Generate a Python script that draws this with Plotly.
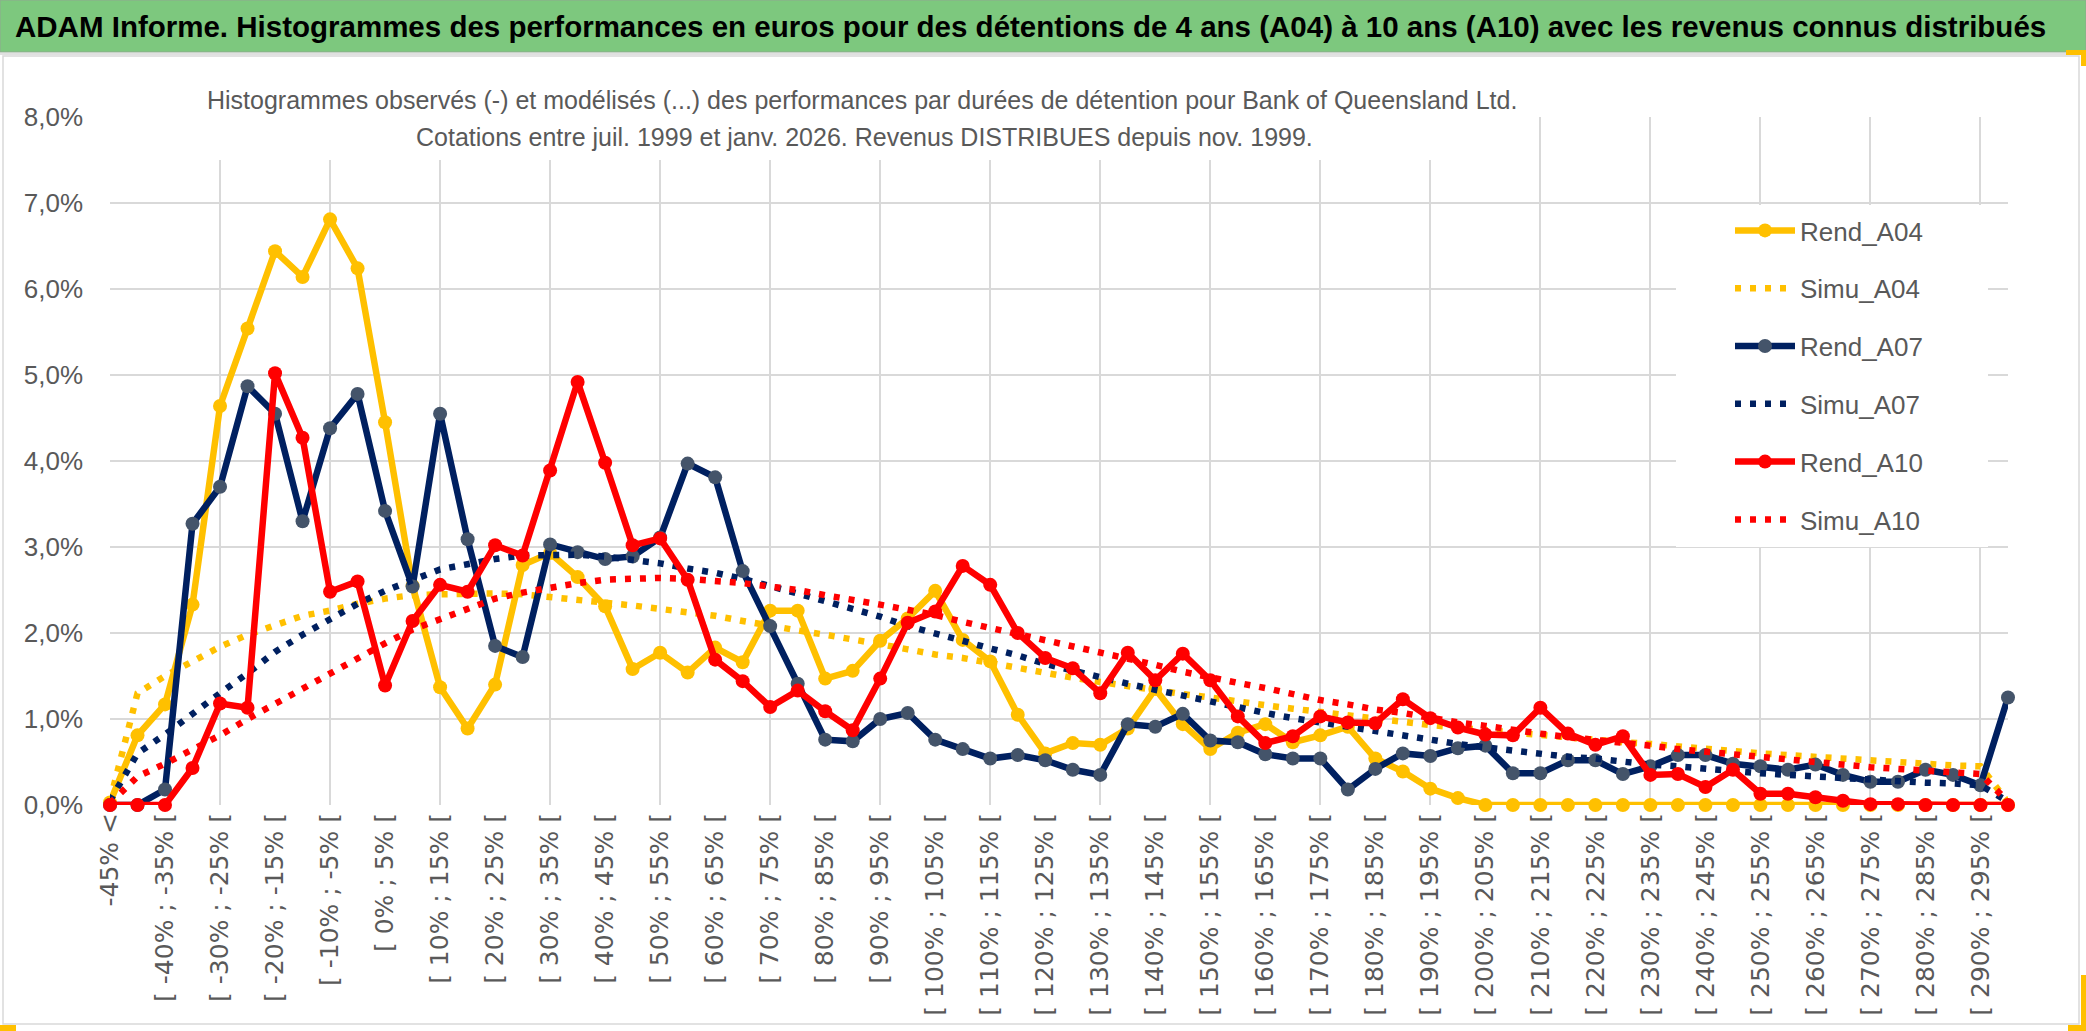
import plotly.graph_objects as go

# ---------------- data (percent) ----------------
LOWER_BOUNDS = list(range(-45, 300, 5))  # bucket lower bounds for buckets 1..69
CATEGORIES = ["-45% <"] + ["[ %d%% ; %d%% [" % (a, a + 5) for a in LOWER_BOUNDS[:68]] + ["> 295%"]

REND_A04 = [0.03, 0.81, 1.17, 2.33, 4.64, 5.54, 6.44, 6.14, 6.81, 6.24,
            4.45, 2.55, 1.37, 0.89, 1.40, 2.79, 2.93, 2.65, 2.31, 1.58,
            1.77, 1.54, 1.83, 1.66, 2.26, 2.26, 1.47, 1.56, 1.91, 2.17,
            2.49, 1.92, 1.67, 1.05, 0.60, 0.72, 0.70, 0.89, 1.35, 0.94,
            0.65, 0.84, 0.94, 0.73, 0.81, 0.91, 0.54, 0.39, 0.19, 0.08,
            0.00, 0.00, 0.00, 0.00, 0.00, 0.00, 0.00, 0.00, 0.00, 0.00,
            0.00, 0.00, 0.00, 0.00, 0.00, 0.00, 0.00, 0.00, 0.00, 0.00]

SIMU_A04 = [0.05, 1.30, 1.50, 1.67, 1.84, 1.98, 2.10, 2.20, 2.26, 2.34,
            2.40, 2.44, 2.45, 2.46, 2.46, 2.45, 2.42, 2.39, 2.36, 2.32,
            2.28, 2.24, 2.20, 2.14, 2.08, 2.03, 1.98, 1.93, 1.87, 1.81,
            1.75, 1.71, 1.65, 1.60, 1.54, 1.48, 1.43, 1.38, 1.33, 1.29,
            1.25, 1.20, 1.16, 1.12, 1.08, 1.04, 1.01, 0.97, 0.93, 0.90,
            0.87, 0.85, 0.81, 0.78, 0.75, 0.73, 0.71, 0.68, 0.66, 0.63,
            0.60, 0.58, 0.56, 0.54, 0.51, 0.49, 0.48, 0.46, 0.45, 0.03]

REND_A07 = [0.00, 0.00, 0.18, 3.27, 3.70, 4.87, 4.55, 3.30, 4.38, 4.78,
            3.42, 2.54, 4.55, 3.09, 1.85, 1.72, 3.03, 2.94, 2.86, 2.89,
            3.11, 3.97, 3.81, 2.72, 2.08, 1.41, 0.76, 0.74, 1.00, 1.07,
            0.76, 0.65, 0.54, 0.58, 0.52, 0.41, 0.35, 0.94, 0.91, 1.06,
            0.75, 0.73, 0.59, 0.54, 0.54, 0.18, 0.42, 0.60, 0.57, 0.66,
            0.69, 0.37, 0.37, 0.52, 0.52, 0.36, 0.45, 0.58, 0.58, 0.48,
            0.45, 0.41, 0.47, 0.35, 0.27, 0.27, 0.41, 0.35, 0.23, 1.25]

SIMU_A07 = [0.05, 0.60, 0.82, 1.07, 1.30, 1.53, 1.78, 1.98, 2.17, 2.34,
            2.49, 2.62, 2.74, 2.80, 2.86, 2.90, 2.91, 2.91, 2.89, 2.85,
            2.81, 2.75, 2.70, 2.63, 2.55, 2.46, 2.37, 2.28, 2.19, 2.08,
            2.00, 1.91, 1.82, 1.74, 1.64, 1.56, 1.49, 1.41, 1.34, 1.27,
            1.20, 1.13, 1.07, 1.01, 0.96, 0.91, 0.86, 0.80, 0.75, 0.71,
            0.67, 0.63, 0.59, 0.56, 0.54, 0.50, 0.47, 0.45, 0.42, 0.40,
            0.37, 0.35, 0.33, 0.31, 0.29, 0.27, 0.26, 0.25, 0.23, 0.04]

REND_A10 = [0.00, 0.00, 0.00, 0.43, 1.18, 1.13, 5.02, 4.27, 2.48, 2.60,
            1.39, 2.14, 2.56, 2.48, 3.02, 2.90, 3.89, 4.92, 3.98, 3.02,
            3.10, 2.62, 1.69, 1.44, 1.14, 1.33, 1.09, 0.87, 1.47, 2.12,
            2.25, 2.78, 2.56, 2.00, 1.71, 1.59, 1.30, 1.77, 1.45, 1.76,
            1.45, 1.03, 0.72, 0.80, 1.03, 0.96, 0.95, 1.23, 1.01, 0.90,
            0.82, 0.81, 1.13, 0.83, 0.70, 0.80, 0.35, 0.36, 0.21, 0.41,
            0.13, 0.13, 0.09, 0.05, 0.01, 0.01, 0.00, 0.00, 0.00, 0.00]

SIMU_A10 = [0.02, 0.33, 0.48, 0.64, 0.81, 1.00, 1.18, 1.35, 1.53, 1.71,
            1.88, 2.04, 2.16, 2.28, 2.40, 2.47, 2.53, 2.58, 2.62, 2.63,
            2.64, 2.63, 2.61, 2.58, 2.54, 2.50, 2.44, 2.39, 2.33, 2.27,
            2.21, 2.13, 2.06, 1.98, 1.91, 1.84, 1.77, 1.70, 1.63, 1.55,
            1.48, 1.42, 1.36, 1.29, 1.22, 1.17, 1.11, 1.07, 1.01, 0.96,
            0.92, 0.87, 0.83, 0.79, 0.76, 0.72, 0.69, 0.65, 0.62, 0.59,
            0.55, 0.52, 0.49, 0.47, 0.44, 0.42, 0.40, 0.38, 0.36, 0.04]

TITLE = ("ADAM Informe. Histogrammes des performances en euros pour des détentions "
         "de 4 ans (A04) à 10 ans (A10) avec les revenus connus distribués")
SUB1 = ("Histogrammes observés (-) et modélisés (...) des performances par durées "
        "de détention pour Bank of Queensland Ltd.")
SUB2 = "Cotations entre juil. 1999 et janv. 2026. Revenus DISTRIBUES depuis nov. 1999."

# ---------------- styling ----------------
W, H = 2086, 1031
L, R, T, B = 110, 2008, 117, 805          # plot area in pixels
GOLD, NAVY, RED, SLATE = "#FFC000", "#002060", "#FF0000", "#44546A"
GRID = "#D9D9D9"
TXT = "#595959"
SANS = "Liberation Sans, Arial, sans-serif"
DOTS = "6px,9px"


def px(x):
    return (x - L) / (R - L)


def py(y):
    return (B - y) / (B - T)


fig = go.Figure()

series = [
    ("Rend_A04", REND_A04, GOLD, GOLD, True),
    ("Simu_A04", SIMU_A04, GOLD, None, False),
    ("Rend_A07", REND_A07, NAVY, SLATE, True),
    ("Simu_A07", SIMU_A07, NAVY, None, False),
    ("Rend_A10", REND_A10, RED, RED, True),
    ("Simu_A10", SIMU_A10, RED, None, False),
]
for name, vals, col, mcol, solid in series:
    if solid:
        fig.add_trace(go.Scatter(
            x=CATEGORIES, y=vals, name=name, legendgroup=name,
            mode="lines+markers",
            line=dict(color=col, width=6.5),
            marker=dict(color=mcol, size=14, line=dict(width=0)),
            cliponaxis=False, hoverinfo="x+y+name"))
    else:
        fig.add_trace(go.Scatter(
            x=CATEGORIES, y=vals, name=name, legendgroup=name,
            mode="lines",
            line=dict(color=col, width=6.5, dash=DOTS),
            cliponaxis=False, hoverinfo="x+y+name"))

# carrier for the vertical gridlines (every 4 categories)
fig.add_trace(go.Scatter(x=[CATEGORIES[0]], y=[None], xaxis="x2", mode="lines",
                         showlegend=False, hoverinfo="skip"))

shapes = [
    # outer chart frame
    dict(type="rect", xref="paper", yref="paper", x0=px(3), x1=px(2079), y0=py(1024), y1=py(56),
         line=dict(color=GRID, width=1.5), fillcolor="white", layer="below"),
    # green title band
    dict(type="rect", xref="paper", yref="paper", x0=px(0), x1=px(W), y0=py(52), y1=py(0),
         line=dict(color="#8FA88F", width=1), fillcolor="#7DC87E", layer="below"),
    dict(type="line", xref="paper", yref="paper", x0=px(0), x1=px(W), y0=py(54), y1=py(54),
         line=dict(color="#E0E0E0", width=2), layer="below"),
    # white boxes hiding the grid behind subtitle and legend (no data there)
    dict(type="rect", xref="paper", yref="paper", x0=px(200), x1=px(1530), y0=py(160), y1=py(112),
         line=dict(width=0), fillcolor="white", layer="above"),
    dict(type="rect", xref="paper", yref="paper", x0=px(1676), x1=px(1988), y0=py(547), y1=py(205),
         line=dict(width=0), fillcolor="white", layer="above"),
    # small yellow selection handles
    dict(type="rect", xref="paper", yref="paper", x0=px(0), x1=px(16), y0=py(1031), y1=py(1025),
         line=dict(width=0), fillcolor=GOLD, layer="above"),
    dict(type="rect", xref="paper", yref="paper", x0=px(2066), x1=px(2086), y0=py(55), y1=py(50),
         line=dict(width=0), fillcolor=GOLD, layer="above"),
    dict(type="rect", xref="paper", yref="paper", x0=px(2081), x1=px(2086), y0=py(66), y1=py(50),
         line=dict(width=0), fillcolor=GOLD, layer="above"),
    dict(type="rect", xref="paper", yref="paper", x0=px(2081), x1=px(2086), y0=py(1031), y1=py(975),
         line=dict(width=0), fillcolor=GOLD, layer="above"),
    dict(type="rect", xref="paper", yref="paper", x0=px(2068), x1=px(2086), y0=py(1031), y1=py(1025),
         line=dict(width=0), fillcolor=GOLD, layer="above"),
]

annotations = [
    dict(text="<b>%s</b>" % TITLE, xref="paper", yref="paper", x=px(13), y=py(26),
         xanchor="left", yanchor="middle", showarrow=False,
         font=dict(family=SANS, size=29.5, color="black")),
    dict(text=SUB1, xref="paper", yref="paper", x=px(862), y=py(100),
         xanchor="center", yanchor="middle", showarrow=False,
         font=dict(family=SANS, size=25, color=TXT)),
    dict(text=SUB2, xref="paper", yref="paper", x=px(864), y=py(137),
         xanchor="center", yanchor="middle", showarrow=False,
         font=dict(family=SANS, size=25, color=TXT)),
]

fig.update_layout(
    width=W, height=H,
    margin=dict(l=L, r=W - R, t=T, b=H - B, pad=0),
    paper_bgcolor="white", plot_bgcolor="rgba(0,0,0,0)",
    separators=", ",
    showlegend=True,
    legend=dict(x=px(1730), y=py(207), xanchor="left", yanchor="top",
                bgcolor="rgba(255,255,255,0)", borderwidth=0,
                font=dict(family=SANS, size=26, color=TXT),
                itemwidth=60, traceorder="grouped", tracegroupgap=21),
    xaxis=dict(type="category", categoryorder="array", categoryarray=CATEGORIES,
               range=[0, len(CATEGORIES) - 1],
               tickmode="array", tickvals=CATEGORIES[0::2], ticktext=CATEGORIES[0::2],
               tickangle=-90, showgrid=False, zeroline=False, showline=False, ticks="",
               ticklabelstandoff=2,
               tickfont=dict(family="DejaVu Sans", size=25, color=TXT)),
    xaxis2=dict(type="category", categoryorder="array", categoryarray=CATEGORIES,
                overlaying="x", anchor="y", side="bottom",
                range=[0, len(CATEGORIES) - 1],
                tickmode="array", tickvals=CATEGORIES[0::4], showticklabels=False,
                showgrid=True, gridcolor=GRID, gridwidth=2, zeroline=False, ticks=""),
    yaxis=dict(range=[0, 8], dtick=1, tickformat=".1f", ticksuffix="%",
               showgrid=True, gridcolor=GRID, gridwidth=2, zeroline=False,
               showline=False, ticks="", ticklabelstandoff=26,
               tickfont=dict(family=SANS, size=26, color=TXT)),
    shapes=shapes,
    annotations=annotations,
    hovermode="closest",
)

fig.write_html("out.html", config={"displayModeBar": False},
               post_script="document.body.style.margin='0';document.body.style.overflow='hidden';")
